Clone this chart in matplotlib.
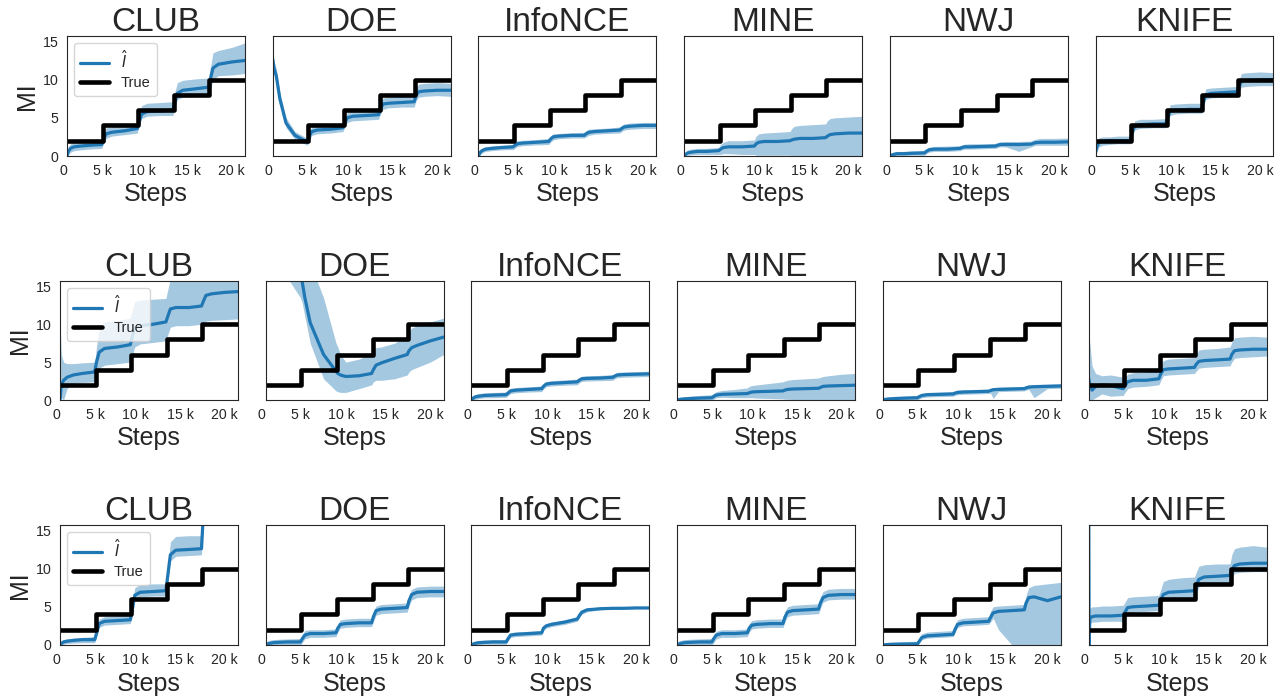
import matplotlib
matplotlib.use("Agg")
import matplotlib.pyplot as plt
import seaborn as sns
import numpy as np

sns.set_style("white")
plt.rcParams["font.family"] = ["Liberation Sans", "DejaVu Sans"]

# ---------------- data ----------------
methods = ["CLUB", "DOE", "InfoNCE", "MINE", "NWJ", "KNIFE"]
true_steps_k = [0, 4, 8, 12, 16, 20]          # training steps (thousands)
true_mi = [2, 4, 6, 8, 10, 10]
x_ticks = [0, 5000, 10000, 15000, 20000]
x_tick_labels = ["0", "5 k", "10 k", "15 k", "20 k"]
y_ticks = [0, 5, 10, 15]

# shared step grid (thousands) for the estimates
grid_k = [0, 0.15, 0.4, 0.8, 1.5, 2.5, 3.9, 4.1, 4.4, 5, 6.5, 7.9, 8.1, 8.4, 9,
          10.5, 11.9, 12.1, 12.4, 13, 14.5, 15.9, 16.1, 16.4, 17, 18.5, 20]

# ---- row 1 ----
club1_mean = [0, 0.6, 1.0, 1.2, 1.3, 1.4, 1.5, 2.2, 2.9, 3.1, 3.3, 3.6, 4.5, 5.5, 5.8, 5.9, 6.0, 7.0, 8.2, 8.6, 8.8, 9.0, 10.0, 11.5, 12.0, 12.3, 12.5]
club1_lo = [0, 0.2, 0.5, 0.7, 0.8, 0.9, 1.0, 1.6, 2.3, 2.6, 2.8, 3.0, 3.9, 4.9, 5.2, 5.3, 5.3, 6.2, 7.4, 7.7, 7.8, 8.0, 8.6, 10.0, 10.5, 10.6, 10.8]
club1_hi = [0.3, 1.2, 1.6, 1.8, 1.9, 2.0, 2.1, 3.0, 3.7, 3.8, 4.0, 4.3, 5.5, 6.6, 6.9, 7.0, 7.1, 8.3, 9.6, 9.9, 10.1, 10.2, 11.5, 13.5, 13.8, 14.2, 14.8]

doe1_mean = [12.7, 11.5, 10.5, 7.5, 4.3, 2.7, 1.8, 2.6, 3.2, 3.4, 3.5, 3.7, 4.4, 5.0, 5.2, 5.3, 5.4, 6.2, 6.8, 6.9, 7.0, 7.1, 7.9, 8.4, 8.5, 8.6, 8.6]
doe1_lo = [11.8, 10.6, 9.6, 6.8, 3.7, 2.2, 1.4, 2.0, 2.7, 2.9, 3.0, 3.2, 3.8, 4.4, 4.6, 4.7, 4.8, 5.5, 6.1, 6.3, 6.4, 6.4, 7.2, 7.7, 7.8, 7.9, 7.8]
doe1_hi = [13.5, 12.4, 11.4, 8.3, 5.0, 3.2, 2.3, 3.2, 3.8, 4.0, 4.1, 4.3, 5.0, 5.7, 5.9, 6.0, 6.1, 6.9, 7.6, 7.7, 7.8, 7.9, 8.8, 9.4, 9.5, 9.6, 9.5]

infonce1_mean = [0, 0.4, 0.7, 0.9, 1.0, 1.1, 1.2, 1.4, 1.6, 1.7, 1.8, 1.9, 2.2, 2.5, 2.6, 2.7, 2.7, 2.9, 3.1, 3.2, 3.3, 3.4, 3.6, 3.8, 3.9, 4.0, 4.0]
infonce1_lo = [0, 0.1, 0.4, 0.6, 0.7, 0.8, 0.85, 1.0, 1.25, 1.35, 1.45, 1.5, 1.8, 2.1, 2.25, 2.35, 2.35, 2.5, 2.7, 2.85, 2.95, 3.0, 3.2, 3.4, 3.5, 3.6, 3.6]
infonce1_hi = [0.2, 0.7, 1.0, 1.2, 1.3, 1.4, 1.5, 1.8, 2.0, 2.05, 2.15, 2.3, 2.6, 2.9, 2.95, 3.05, 3.1, 3.3, 3.5, 3.55, 3.65, 3.8, 4.0, 4.2, 4.3, 4.4, 4.4]

mine1_mean = [0, 0.2, 0.4, 0.5, 0.6, 0.6, 0.7, 0.9, 1.1, 1.2, 1.2, 1.3, 1.6, 1.8, 1.9, 1.9, 2.0, 2.1, 2.2, 2.3, 2.3, 2.4, 2.6, 2.8, 2.9, 3.0, 3.0]
mine1_lo = [0, 0.05, 0.1, 0.15, 0.2, 0.2, 0.2, 0.2, 0.3, 0.3, 0.2, 0.2, 0.1, 0.1, 0.1, 0.1, 0.1, 0.05, 0, 0, 0, 0, 0, 0, 0, 0, 0]
mine1_hi = [0.2, 0.5, 0.8, 0.9, 1.0, 1.0, 1.1, 1.5, 1.8, 2.0, 2.0, 2.1, 2.6, 2.9, 3.0, 3.1, 3.2, 3.6, 3.9, 4.0, 4.1, 4.2, 4.6, 4.9, 5.0, 5.1, 5.2]

nwj1_mean = [0, 0.1, 0.2, 0.3, 0.3, 0.35, 0.4, 0.6, 0.8, 0.9, 0.9, 1.0, 1.1, 1.2, 1.2, 1.25, 1.3, 1.4, 1.5, 1.5, 1.5, 1.55, 1.65, 1.75, 1.8, 1.8, 1.85]
nwj1_lo = [0, 0, 0, 0.05, 0.05, 0.1, 0.1, 0.3, 0.5, 0.6, 0.6, 0.7, 0.8, 0.9, 0.9, 0.95, 1.0, 1.1, 1.2, 1.2, 0.6, 1.2, 1.3, 1.4, 1.4, 1.4, 1.4]
nwj1_hi = [0.1, 0.3, 0.5, 0.6, 0.6, 0.7, 0.75, 0.95, 1.15, 1.25, 1.3, 1.35, 1.45, 1.55, 1.6, 1.6, 1.65, 1.75, 1.85, 1.9, 1.9, 1.95, 2.1, 2.2, 2.3, 2.3, 2.35]

knife1_mean = [0.5, 1.2, 1.8, 1.9, 2.0, 2.0, 2.0, 3.0, 3.9, 4.1, 4.2, 4.2, 5.0, 5.9, 6.0, 6.1, 6.1, 7.0, 8.0, 8.2, 8.3, 8.4, 9.0, 9.8, 9.9, 10.0, 10.0]
knife1_lo = [0, 0.5, 1.2, 1.4, 1.5, 1.6, 1.6, 2.4, 3.4, 3.6, 3.7, 3.7, 4.4, 5.3, 5.5, 5.6, 5.6, 6.4, 7.4, 7.6, 7.7, 7.8, 8.3, 9.0, 9.1, 9.2, 9.2]
knife1_hi = [1.0, 2.0, 2.4, 2.5, 2.5, 2.6, 2.6, 3.6, 4.6, 4.8, 4.8, 4.9, 5.7, 6.7, 6.8, 6.9, 6.9, 7.8, 8.8, 8.9, 9.0, 9.1, 9.9, 10.8, 10.9, 11.0, 10.9]

# ---- row 2 ----
club2_mean = [0, 2.0, 2.6, 3.0, 3.3, 3.5, 3.7, 5.0, 6.3, 6.8, 7.0, 7.3, 8.3, 9.5, 9.8, 10.0, 10.3, 11.0, 12.0, 12.2, 12.2, 12.4, 13.0, 13.8, 14.0, 14.2, 14.3]
club2_lo = [0, 0.3, 0.0, 1.5, 2.2, 2.3, 2.4, 3.4, 4.2, 4.6, 4.8, 5.0, 5.8, 7.0, 7.4, 7.6, 7.8, 8.6, 9.6, 9.8, 9.8, 10.0, 10.2, 10.4, 10.5, 10.6, 10.7]
club2_hi = [10.5, 6.0, 5.0, 4.8, 4.8, 4.9, 5.0, 7.0, 9.5, 10.3, 10.5, 10.8, 11.8, 13.0, 13.2, 13.3, 13.4, 14.5, 16, 16, 16, 16, 16, 16, 16, 16, 16]

doe2_mean = [40, 38, 35, 31, 26, 21, 16.5, 15.6, 13.5, 10.2, 6.0, 3.8, 3.5, 3.3, 3.1, 3.2, 3.5, 4.0, 4.6, 4.9, 5.5, 6.0, 6.5, 6.9, 7.2, 7.8, 8.3]
doe2_lo = [30, 28, 26, 22, 19, 16, 13.5, 12.8, 11, 7.5, 2.8, 1.2, 1.1, 1.0, 1.0, 1.5, 2.0, 2.4, 2.6, 2.6, 2.8, 3.3, 3.7, 4.0, 4.3, 5.0, 6.0]
doe2_hi = [50, 48, 45, 42, 38, 32, 25, 23, 20, 18, 13.5, 7.5, 7.0, 6.0, 5.0, 5.4, 6.2, 6.6, 6.9, 7.0, 7.5, 8.5, 9.0, 9.5, 9.8, 10.3, 10.8]

infonce2_mean = [0, 0.2, 0.4, 0.5, 0.6, 0.65, 0.7, 0.9, 1.2, 1.3, 1.4, 1.5, 1.8, 2.1, 2.2, 2.3, 2.4, 2.6, 2.8, 2.85, 2.9, 3.0, 3.15, 3.3, 3.35, 3.4, 3.45]
infonce2_lo = [0, 0, 0.1, 0.2, 0.3, 0.3, 0.35, 0.55, 0.85, 0.95, 1.05, 1.1, 1.45, 1.75, 1.85, 1.95, 2.0, 2.25, 2.45, 2.5, 2.55, 2.6, 2.8, 2.95, 3.0, 3.05, 3.1]
infonce2_hi = [0.2, 0.5, 0.7, 0.85, 0.95, 1.0, 1.05, 1.25, 1.55, 1.65, 1.75, 1.85, 2.15, 2.45, 2.55, 2.65, 2.75, 2.95, 3.15, 3.2, 3.25, 3.35, 3.5, 3.65, 3.7, 3.75, 3.8]

mine2_mean = [0, 0.05, 0.1, 0.15, 0.2, 0.25, 0.3, 0.45, 0.65, 0.75, 0.8, 0.85, 0.95, 1.05, 1.1, 1.15, 1.2, 1.3, 1.4, 1.45, 1.5, 1.55, 1.65, 1.8, 1.85, 1.9, 1.95]
mine2_lo = [0, 0, 0, 0, 0, 0, 0, 0.1, 0.3, 0.35, 0.3, 0.3, 0.3, 0.3, 0.25, 0.2, 0.15, 0.1, 0.1, 0.05, 0, 0, 0, 0, 0, 0, 0]
mine2_hi = [0.1, 0.2, 0.3, 0.35, 0.5, 0.6, 0.7, 0.9, 1.1, 1.25, 1.4, 1.6, 1.8, 1.9, 2.0, 2.2, 2.4, 2.5, 2.6, 2.7, 2.8, 2.9, 3.0, 3.1, 3.2, 3.4, 3.5]

nwj2_mean = [0, 0.05, 0.1, 0.15, 0.2, 0.25, 0.3, 0.45, 0.6, 0.7, 0.75, 0.8, 0.9, 1.0, 1.05, 1.1, 1.15, 1.25, 1.35, 1.4, 1.45, 1.5, 1.6, 1.7, 1.75, 1.8, 1.85]
nwj2_lo = [0, 0, 0, 0, 0, 0, 0.05, 0.15, 0.3, 0.4, 0.45, 0.5, 0.6, 0.7, 0.75, 0.8, 0.85, 0.9, 0.2, 1.1, 1.15, 1.2, 1.3, 1.4, 0.3, 1.5, 1.55]
nwj2_hi = [0.1, 0.25, 0.35, 0.4, 0.45, 0.5, 0.55, 0.75, 0.9, 1.0, 1.05, 1.1, 1.2, 1.3, 1.35, 1.4, 1.45, 1.55, 1.65, 1.7, 1.75, 1.8, 1.9, 2.0, 2.05, 2.1, 2.15]

knife2_mean = [3.0, 2.0, 1.3, 1.8, 2.0, 1.9, 1.5, 1.9, 2.4, 2.6, 2.6, 2.8, 3.4, 4.0, 4.1, 4.2, 4.3, 4.7, 5.1, 5.2, 5.3, 5.4, 6.0, 6.5, 6.6, 6.7, 6.7]
knife2_lo = [0.5, 0.0, 0.0, 0.3, 0.8, 0.5, 0.6, 1.0, 1.5, 1.7, 1.8, 2.0, 2.5, 3.2, 3.3, 3.4, 3.5, 3.8, 4.2, 4.3, 4.4, 4.5, 5.0, 5.5, 5.6, 5.7, 5.8]
knife2_hi = [8.0, 7.5, 4.5, 3.5, 3.2, 3.3, 3.0, 3.0, 3.4, 3.6, 3.7, 3.9, 4.5, 5.2, 5.4, 5.5, 5.6, 6.0, 6.6, 6.7, 6.8, 7.0, 7.6, 8.2, 8.3, 8.4, 8.3]

# ---- row 3 ----
club3_mean = [0, 0.2, 0.4, 0.5, 0.6, 0.7, 0.7, 1.5, 2.8, 3.1, 3.2, 3.3, 4.5, 6.5, 6.9, 7.0, 7.1, 9.0, 11.8, 12.4, 12.5, 12.6, 17, 25, 30, 30, 30]
club3_lo = [0, 0, 0.1, 0.2, 0.25, 0.3, 0.3, 1.0, 2.3, 2.6, 2.7, 2.8, 3.8, 5.9, 6.3, 6.4, 6.4, 8.0, 11.0, 11.6, 11.7, 11.8, 16, 24, 29, 29, 29]
club3_hi = [0.3, 0.5, 0.7, 0.8, 0.9, 1.0, 1.1, 2.0, 3.4, 3.7, 3.8, 3.9, 5.2, 7.5, 7.9, 8.0, 8.0, 10.2, 13.5, 14.2, 14.3, 14.3, 18, 26, 31, 31, 31]

doe3_mean = [0, 0.1, 0.2, 0.3, 0.35, 0.4, 0.4, 0.8, 1.3, 1.5, 1.5, 1.6, 2.2, 2.7, 2.8, 2.9, 2.9, 3.7, 4.5, 4.7, 4.8, 4.9, 5.8, 6.6, 6.9, 7.0, 7.0]
doe3_lo = [0, 0, 0, 0, 0, 0, 0, 0.3, 0.8, 1.0, 1.0, 1.1, 1.7, 2.2, 2.3, 2.4, 2.4, 3.1, 3.9, 4.1, 4.2, 4.3, 5.1, 5.9, 6.2, 6.3, 6.3]
doe3_hi = [0.3, 0.5, 0.6, 0.7, 0.75, 0.8, 0.85, 1.3, 1.9, 2.0, 2.0, 2.1, 2.8, 3.3, 3.4, 3.5, 3.5, 4.3, 5.1, 5.3, 5.4, 5.5, 6.5, 7.3, 7.6, 7.7, 7.7]

infonce3_mean = [0, 0.1, 0.2, 0.3, 0.35, 0.4, 0.4, 0.8, 1.3, 1.4, 1.5, 1.6, 2.2, 2.5, 2.7, 3.0, 3.4, 3.8, 4.3, 4.6, 4.75, 4.8, 4.8, 4.8, 4.8, 4.85, 4.85]
infonce3_lo = [0, 0, 0, 0.05, 0.1, 0.1, 0.1, 0.5, 1.0, 1.1, 1.2, 1.3, 1.9, 2.2, 2.4, 2.7, 3.1, 3.5, 4.0, 4.35, 4.6, 4.7, 4.7, 4.7, 4.7, 4.75, 4.75]
infonce3_hi = [0.2, 0.4, 0.5, 0.6, 0.65, 0.7, 0.7, 1.1, 1.6, 1.7, 1.8, 1.9, 2.5, 2.8, 3.0, 3.3, 3.7, 4.1, 4.6, 4.85, 4.9, 4.9, 4.9, 4.9, 4.9, 4.95, 4.95]

mine3_mean = [0, 0.1, 0.2, 0.3, 0.35, 0.4, 0.4, 0.8, 1.3, 1.5, 1.5, 1.6, 2.2, 2.6, 2.7, 2.8, 2.8, 3.6, 4.3, 4.5, 4.6, 4.7, 5.5, 6.2, 6.5, 6.6, 6.6]
mine3_lo = [0, 0, 0, 0, 0, 0, 0, 0.3, 0.8, 1.0, 1.0, 1.1, 1.7, 2.1, 2.2, 2.3, 2.3, 3.0, 3.7, 3.9, 4.0, 4.1, 4.8, 5.6, 5.9, 6.0, 6.0]
mine3_hi = [0.3, 0.5, 0.6, 0.7, 0.75, 0.8, 0.85, 1.3, 1.8, 2.0, 2.0, 2.1, 2.8, 3.2, 3.3, 3.4, 3.4, 4.3, 5.0, 5.2, 5.3, 5.4, 6.3, 7.0, 7.3, 7.4, 7.4]

nwj3_mean = [0, 0.02, 0.05, 0.08, 0.1, 0.12, 0.15, 0.5, 1.0, 1.2, 1.3, 1.4, 2.0, 2.7, 2.9, 3.0, 3.1, 3.6, 4.2, 4.4, 4.5, 4.6, 5.5, 6.2, 6.3, 5.8, 6.3]
nwj3_lo = [0, 0, 0, 0, 0, 0, 0, 0.2, 0.7, 0.9, 1.0, 1.1, 1.6, 2.3, 2.5, 2.6, 2.7, 3.0, 3.5, 2.0, 0, 0, 0, 0, 0, 0, 0]
nwj3_hi = [0.1, 0.2, 0.3, 0.35, 0.4, 0.45, 0.5, 0.9, 1.5, 1.7, 1.8, 1.9, 2.6, 3.3, 3.5, 3.6, 3.7, 4.4, 5.0, 5.1, 5.2, 5.3, 6.5, 7.5, 7.8, 8.0, 8.2]

knife3_k = [0, 0.07, 0.15, 0.4, 0.8, 1.5, 2.5, 3.9, 4.1, 4.4, 5, 6.5, 7.9, 8.1, 8.4, 9,
            10.5, 11.9, 12.1, 12.4, 13, 14.5, 15.9, 16.1, 16.4, 17, 18.5, 20]
knife3_mean = [30, 0, 3.5, 3.7, 3.8, 3.8, 3.8, 3.9, 4.3, 4.9, 5.0, 5.1, 5.2, 5.8, 6.6, 6.9, 7.0, 7.1, 7.8, 8.6, 8.9, 9.0, 9.1, 9.8, 10.4, 10.6, 10.7, 10.7]
knife3_lo = [30, 0, 2.8, 3.0, 3.0, 3.1, 3.1, 3.1, 3.5, 4.2, 4.3, 4.4, 4.5, 5.0, 5.8, 6.0, 6.1, 6.2, 6.8, 7.6, 7.8, 7.9, 8.0, 8.7, 9.4, 9.5, 9.6, 9.6]
knife3_hi = [30, 0, 4.8, 5.0, 5.0, 5.1, 5.1, 5.2, 5.6, 6.2, 6.3, 6.4, 6.5, 7.2, 8.3, 8.6, 8.8, 8.9, 9.5, 10.3, 10.5, 10.6, 10.6, 11.8, 12.6, 12.8, 13.0, 12.8]

rows = [
    [(grid_k, club1_mean, club1_lo, club1_hi), (grid_k, doe1_mean, doe1_lo, doe1_hi),
     (grid_k, infonce1_mean, infonce1_lo, infonce1_hi), (grid_k, mine1_mean, mine1_lo, mine1_hi),
     (grid_k, nwj1_mean, nwj1_lo, nwj1_hi), (grid_k, knife1_mean, knife1_lo, knife1_hi)],
    [(grid_k, club2_mean, club2_lo, club2_hi), (grid_k, doe2_mean, doe2_lo, doe2_hi),
     (grid_k, infonce2_mean, infonce2_lo, infonce2_hi), (grid_k, mine2_mean, mine2_lo, mine2_hi),
     (grid_k, nwj2_mean, nwj2_lo, nwj2_hi), (grid_k, knife2_mean, knife2_lo, knife2_hi)],
    [(grid_k, club3_mean, club3_lo, club3_hi), (grid_k, doe3_mean, doe3_lo, doe3_hi),
     (grid_k, infonce3_mean, infonce3_lo, infonce3_hi), (grid_k, mine3_mean, mine3_lo, mine3_hi),
     (grid_k, nwj3_mean, nwj3_lo, nwj3_hi), (knife3_k, knife3_mean, knife3_lo, knife3_hi)],
]

# ---------------- layout ----------------
W, H = 1281, 698
fig = plt.figure(figsize=(W / 100, H / 100), dpi=100)
row_top_px = [36, 281, 525]
row_h_px = [120, 119, 120]
row_left_px = [67, 60, 60]
col_step_px = 205.7
ax_w_px = 178

blue = "#1f77b4"
for r in range(3):
    for c in range(6):
        left = (row_left_px[r] + c * col_step_px) / W
        bottom = 1 - (row_top_px[r] + row_h_px[r]) / H
        ax = fig.add_axes([left, bottom, ax_w_px / W, row_h_px[r] / H])
        xk, m, lo, hi = rows[r][c]
        xs = np.array(xk) * 1000
        ax.fill_between(xs, lo, hi, color=blue, alpha=0.4, lw=0)
        ax.plot(xs, m, color=blue, lw=2.3, label=r"$\hat{I}$")
        ax.plot(np.array(true_steps_k) * 1000, true_mi, drawstyle="steps-post",
                color="black", lw=3.3, label="True")
        ax.set_xlim(0, 20000)
        ax.set_ylim(0, 15.7)
        ax.set_xticks(x_ticks)
        ax.set_xticklabels(x_tick_labels, ha="right")
        ax.set_yticks(y_ticks)
        ax.tick_params(axis="both", labelsize=10.2, pad=6, length=0)
        if c == 0:
            ax.set_ylabel("MI", fontsize=18, labelpad=3)
            ax.legend(loc="upper left", fontsize=10.5, frameon=True, edgecolor="0.8",
                      fancybox=True, framealpha=0.8, labelspacing=0.35)
        else:
            ax.set_yticklabels([])
        ax.set_xlabel("Steps", fontsize=18, labelpad=3)
        ax.set_title(methods[c], fontsize=24, pad=3.5)

fig.savefig("out.png", dpi=100)
